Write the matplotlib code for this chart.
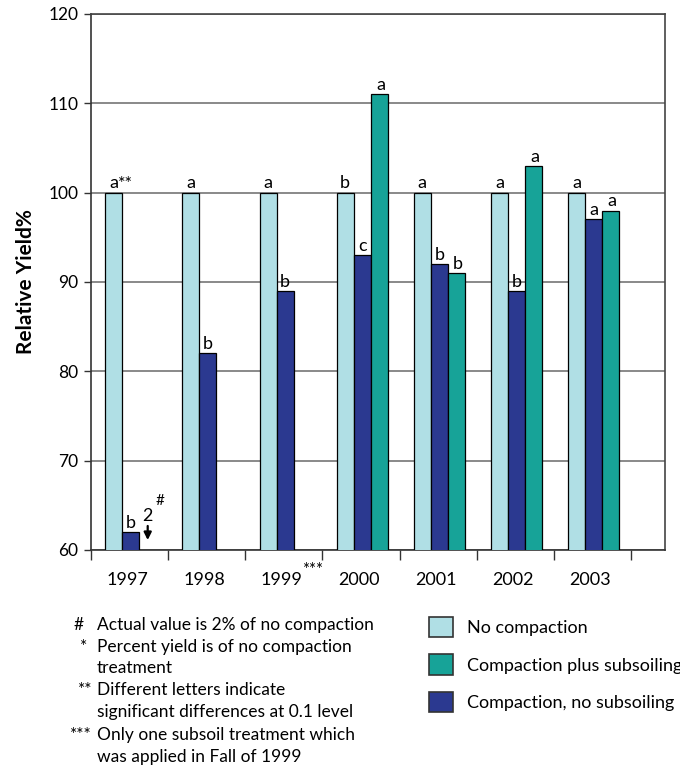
import matplotlib
matplotlib.use("Agg")
import matplotlib.pyplot as plt
from matplotlib.patches import Patch
import numpy as np

plt.rcParams['font.family'] = ['Lato', 'DejaVu Sans']

years = ['1997', '1998', '1999', '2000', '2001', '2002', '2003']
no_compaction = [100, 100, 100, 100, 100, 100, 100]
compaction_no_sub = [62, 82, 89, 93, 92, 89, 97]
compaction_sub = [np.nan, np.nan, np.nan, 111, 91, 103, 98]
letters_no = ['a', 'a', 'a', 'b', 'a', 'a', 'a']
letters_nosub = ['b', 'b', 'b', 'c', 'b', 'b', 'a']
letters_sub = ['', '', '', 'a', 'b', 'a', 'a']
series_names = ['No compaction', 'Compaction plus subsoiling', 'Compaction, no subsoiling']

c_light = '#B0DFE5'
c_teal = '#17A398'
c_dark = '#2B3990'

fig = plt.figure(figsize=(6.8, 7.68), dpi=100)
ax = fig.add_axes([91/680, 1-550/768, (665-91)/680, (550-14)/768])

n = len(years)
centers = np.arange(n) + 0.5
w = 0.22
x_light = centers - w + 0.015
x_dark = centers + 0.015
x_teal = centers + w + 0.015

ax.bar(x_light, no_compaction, w, color=c_light, edgecolor='black', linewidth=0.9, zorder=3)
ax.bar(x_dark, compaction_no_sub, w, color=c_dark, edgecolor='black', linewidth=0.9, zorder=3)
ax.bar(x_teal, compaction_sub, w, color=c_teal, edgecolor='black', linewidth=0.9, zorder=3)

ax.set_ylim(60, 120)
ax.set_xlim(0, 7.44)
ax.set_yticks(np.arange(60, 121, 10))
ax.yaxis.grid(True, color='#808080', linewidth=1.3, zorder=0)
ax.tick_params(axis='y', direction='out', length=5, width=1, labelsize=12.5, pad=4, colors='#333333', labelcolor='black')

ax.set_xticks(np.arange(0, 8))
ax.set_xticklabels([])
ax.set_xticks(centers - 0.03, minor=True)
ax.set_xticklabels(years, minor=True)
ax.tick_params(axis='x', which='major', direction='out', length=7, width=1, colors='#333333')
ax.tick_params(axis='x', which='minor', length=0, pad=16, labelsize=13)

for s in ['top', 'right']:
    ax.spines[s].set_color('#444444')
    ax.spines[s].set_linewidth(1.2)
for s in ['left', 'bottom']:
    ax.spines[s].set_color('#333333')
    ax.spines[s].set_linewidth(1.2)

ax.set_ylabel('Relative Yield%', fontsize=15, fontweight='bold', labelpad=9)

# letters
fs = 13
for i in range(n):
    ax.text(x_light[i], no_compaction[i] + 0.15, letters_no[i], ha='center', va='bottom', fontsize=fs, zorder=5)
    ax.text(x_dark[i], compaction_no_sub[i] + 0.15, letters_nosub[i], ha='center', va='bottom', fontsize=fs, zorder=5)
    if letters_sub[i]:
        ax.text(x_teal[i] + 0.02, compaction_sub[i] + 0.15, letters_sub[i], ha='center', va='bottom', fontsize=fs, zorder=5)
ax.text(x_light[0] + 0.06, no_compaction[0] + 0.1, '**', ha='left', va='bottom', fontsize=fs, zorder=5)

# arrow for 1997 compaction plus subsoiling
ax.annotate('', xy=(x_teal[0], 60.8), xytext=(x_teal[0], 63.0),
            arrowprops=dict(arrowstyle='-|>', color='black', lw=1.6, mutation_scale=11), zorder=5)
ax.text(x_teal[0], 62.9, '2', ha='center', va='bottom', fontsize=fs, zorder=5)
ax.text(x_teal[0] + 0.1, 64.7, '#', ha='left', va='bottom', fontsize=11, zorder=5)

# *** near 1999
ax.text(2.87, -0.022, '***', transform=ax.get_xaxis_transform(), ha='center', va='top', fontsize=12)

# legend
handles = [Patch(facecolor=c_light, edgecolor='#333333', linewidth=1.2),
           Patch(facecolor=c_teal, edgecolor='#333333', linewidth=1.2),
           Patch(facecolor=c_dark, edgecolor='#333333', linewidth=1.2)]
fig.legend(handles, series_names, loc='upper left', bbox_to_anchor=(429/680, 1-617/768),
           frameon=False, fontsize=13, handlelength=1.35, handleheight=1.35,
           handletextpad=0.75, labelspacing=0.95, borderpad=0, borderaxespad=0)

# footnotes
notes = [
    ('#', 84, 'Actual value is 2% of no compaction'),
    ('*', 87, 'Percent yield is of no compaction'),
    (None, None, 'treatment'),
    ('**', 92, 'Different letters indicate'),
    (None, None, 'significant differences at 0.1 level'),
    ('***', 92, 'Only one subsoil treatment which'),
    (None, None, 'was applied in Fall of 1999'),
]
ys = [625, 647, 668, 690, 712, 735, 757]
for (sym, sx, txt), yy in zip(notes, ys):
    if sym:
        fig.text(sx/680, 1-yy/768, sym, ha='right', va='center', fontsize=12.5)
    fig.text(97/680, 1-yy/768, txt, ha='left', va='center', fontsize=12.5)

fig.savefig('out.png', dpi=100)
